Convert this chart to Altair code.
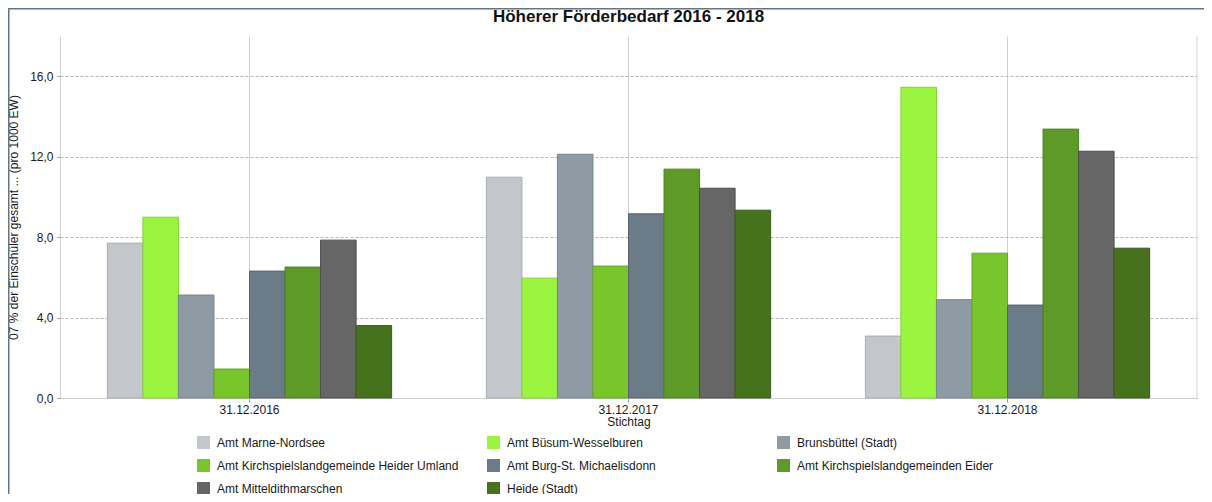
import altair as alt
import pandas as pd

dates = ["31.12.2016", "31.12.2017", "31.12.2018"]
regions = [
    "Amt Marne-Nordsee",
    "Amt Büsum-Wesselburen",
    "Brunsbüttel (Stadt)",
    "Amt Kirchspielslandgemeinde Heider Umland",
    "Amt Burg-St. Michaelisdonn",
    "Amt Kirchspielslandgemeinden Eider",
    "Amt Mitteldithmarschen",
    "Heide (Stadt)",
]
marne = [7.70, 10.98, 3.08]
buesum = [8.99, 5.96, 15.45]
bruns = [5.12, 12.12, 4.89]
heider = [1.44, 6.56, 7.20]
burg = [6.31, 9.16, 4.62]
eider = [6.51, 11.38, 13.37]
mittel = [7.85, 10.43, 12.27]
heide = [3.60, 9.34, 7.45]
series = [marne, buesum, bruns, heider, burg, eider, mittel, heide]
title_text = ["Höherer Förderbedarf 2016 - 2018"]

fills = ["#c3c7cb", "#9bf43f", "#8f9ba4", "#78c62c", "#6b7b88", "#5e9a27", "#666666", "#46721e"]
strokes = ["#a8adb2", "#7fd233", "#78848d", "#62a823", "#56636e", "#4c8220", "#4d4d4d", "#385c18"]

rows = []
for r, vals in zip(regions, series):
    for d, v in zip(dates, vals):
        rows.append({"Stichtag": d, "Region": r, "Wert": v})
df = pd.DataFrame(rows)

W, H = 1137, 362
FONT = "Liberation Sans"
FS = 12

bars = alt.Chart(df).mark_bar(strokeWidth=1).encode(
    x=alt.X(
        "Stichtag:N",
        sort=dates,
        scale=alt.Scale(paddingInner=0.25, paddingOuter=0.125),
        axis=alt.Axis(
            title="Stichtag", labelAngle=0, bandPosition=0.5, grid=True,
            gridColor="#cfcfcf", gridWidth=1, domainColor="#cfcfcf",
            tickColor="#999999", tickSize=4, labelPadding=2, titlePadding=1,
            labelFontSize=FS, titleFontSize=FS, titleFontWeight="normal",
            labelColor="#1a1a1a", titleColor="#1a1a1a", labelFont=FONT, titleFont=FONT,
        ),
    ),
    xOffset=alt.XOffset("Region:N", sort=regions, scale=alt.Scale(paddingInner=0, paddingOuter=0)),
    y=alt.Y(
        "Wert:Q",
        scale=alt.Scale(domain=[0, 18], nice=False),
        axis=alt.Axis(
            title="07 % der Einschüler gesamt ... (pro 1000 EW)",
            values=[0, 4, 8, 12, 16],
            labelExpr="replace(format(datum.value, '.1f'), '.', ',')",
            grid=True, gridColor="#b5b5b5", gridDash=[3, 2], gridWidth=1,
            domainColor="#cfcfcf", tickColor="#999999", tickSize=3, labelPadding=4,
            titlePadding=9, labelFontSize=FS, titleFontSize=FS, titleFontWeight="normal",
            labelColor="#1a1a1a", titleColor="#1a1a1a", labelFont=FONT, titleFont=FONT,
        ),
    ),
    color=alt.Color(
        "Region:N", sort=regions,
        scale=alt.Scale(domain=regions, range=fills),
        legend=alt.Legend(
            title=None, orient="none", legendX=137, legendY=400, columns=3,
            direction="horizontal", gridAlign="all", columnPadding=28, rowPadding=10,
            symbolType="square", symbolSize=169, symbolStrokeWidth=0,
            labelFontSize=FS, labelFont=FONT, labelColor="#1a1a1a", labelOffset=7,
            padding=0, labelLimit=400,
        ),
    ),
    stroke=alt.Stroke("Region:N", sort=regions, scale=alt.Scale(domain=regions, range=strokes), legend=None),
)

one = alt.Data(values=[{"a": 1}])
right_line = alt.Chart(one).mark_rule(color="#cfcfcf", strokeWidth=1).encode(
    x=alt.value(W), y=alt.value(0), y2=alt.value(H)
)
frame_top = alt.Chart(one).mark_rule(color="#66757f", strokeWidth=1.5).encode(
    x=alt.value(-52), x2=alt.value(W + 20), y=alt.value(-27.25)
)
frame_left = alt.Chart(one).mark_rule(color="#66757f", strokeWidth=1.5).encode(
    x=alt.value(-51.25), y=alt.value(-28), y2=alt.value(H + 120)
)
title = alt.Chart(alt.Data(values=[{"t": t} for t in title_text])).mark_text(
    fontSize=17, fontWeight="bold", font=FONT, color="#111111",
    align="center", baseline="middle",
).encode(x=alt.value(W / 2), y=alt.value(-19.5), text="t:N")

chart = alt.layer(bars, right_line, frame_top, frame_left, title).properties(
    width=W, height=H,
    autosize=alt.AutoSizeParams(type="none"),
    padding={"left": 52, "top": 28, "right": 7, "bottom": 96},
).configure_view(stroke=None)

chart.save("out.html", embed_options={"renderer": "svg", "actions": False})
